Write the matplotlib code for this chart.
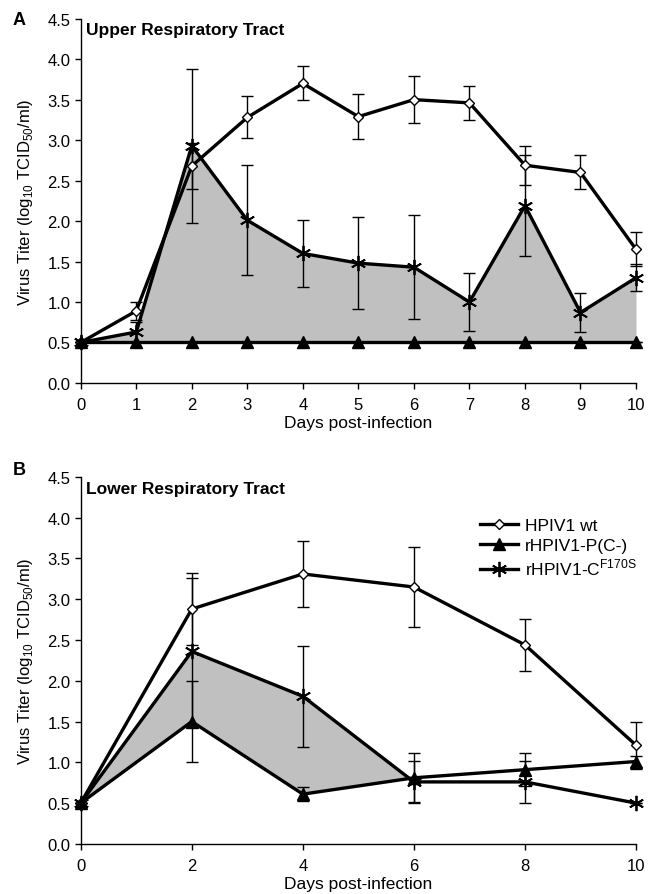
import numpy as np
import matplotlib
matplotlib.use("Agg")
import matplotlib.pyplot as plt

plt.rcParams['font.family'] = ['Liberation Sans', 'DejaVu Sans']

# Upper respiratory tract (days 0-10)
days_a = [0, 1, 2, 3, 4, 5, 6, 7, 8, 9, 10]
wt_a = [0.5, 0.89, 2.68, 3.28, 3.70, 3.29, 3.50, 3.46, 2.69, 2.60, 1.65]
wt_a_err = [0, 0.11, 0.29, 0.26, 0.21, 0.28, 0.29, 0.21, 0.24, 0.21, 0.21]
pc_a = [0.5, 0.5, 0.5, 0.5, 0.5, 0.5, 0.5, 0.5, 0.5, 0.5, 0.5]
pc_a_err = [0, 0, 0, 0, 0, 0, 0, 0, 0, 0, 0]
cf_a = [0.5, 0.63, 2.93, 2.01, 1.60, 1.48, 1.43, 1.00, 2.19, 0.87, 1.30]
cf_a_err = [0, 0.12, 0.95, 0.68, 0.41, 0.57, 0.64, 0.36, 0.62, 0.24, 0.17]

# Lower respiratory tract (every 2 days)
days_b = [0, 2, 4, 6, 8, 10]
wt_b = [0.5, 2.88, 3.31, 3.15, 2.44, 1.21]
wt_b_err = [0, 0.44, 0.41, 0.49, 0.32, 0.29]
pc_b = [0.5, 1.5, 0.61, 0.81, 0.91, 1.01]
pc_b_err = [0, 0.5, 0.09, 0.3, 0.2, 0.07]
cf_b = [0.5, 2.36, 1.81, 0.76, 0.76, 0.5]
cf_b_err = [0, 0.9, 0.62, 0.26, 0.26, 0]

labels = ['HPIV1 wt', 'rHPIV1-P(C-)', 'rHPIV1-C$^{\\mathregular{F170S}}$']
ylabel = 'Virus Titer (log$_{\\mathregular{10}}$ TCID$_{\\mathregular{50}}$/ml)'

fig = plt.figure(figsize=(6.51, 8.95), dpi=100)
ax_a = fig.add_axes([0.124, 0.571, 0.853, 0.407])
ax_b = fig.add_axes([0.124, 0.056, 0.853, 0.410])

styles = [dict(marker='D', markersize=5, markerfacecolor='white', markeredgewidth=1),
          dict(marker='^', markersize=8, markerfacecolor='black'),
          dict(marker=(6, 2, 0), markersize=11, markeredgewidth=1.3)]


def draw(ax, days, series, errs, fill_lo, fill_hi, title, xticks):
    days = np.array(days)
    lo = np.array(fill_lo)
    hi = np.array(fill_hi)
    ax.fill_between(days, lo, hi, where=hi >= lo, interpolate=True,
                    color='#c0c0c0', linewidth=0, zorder=1)
    handles = []
    for vals, err, st, lab in zip(series, errs, styles, labels):
        ax.errorbar(days, vals, yerr=err, fmt='none', ecolor='black',
                    elinewidth=1, capsize=4, capthick=1, zorder=2)
        h, = ax.plot(days, vals, color='black', lw=2.4, markeredgecolor='black',
                     label=lab, zorder=3, **st)
        handles.append(h)
    ax.set_xlim(0, 10)
    ax.set_ylim(0, 4.5)
    ax.set_xticks(xticks)
    ax.set_yticks(np.arange(0, 4.51, 0.5))
    ax.set_yticklabels(['%.1f' % v for v in np.arange(0, 4.51, 0.5)])
    for s in ['top', 'right']:
        ax.spines[s].set_visible(False)
    for s in ['left', 'bottom']:
        ax.spines[s].set_linewidth(1.0)
    ax.tick_params(direction='out', length=4, width=1, labelsize=12)
    ax.tick_params(axis='x', pad=6)
    ax.set_xlabel('Days post-infection', fontsize=12.5, labelpad=2)
    ax.set_ylabel(ylabel, fontsize=12, labelpad=9)
    ax.text(0.01, 0.99, title, transform=ax.transAxes, fontsize=12.5,
            fontweight='bold', va='top', ha='left')
    for art in ax.lines + ax.collections:
        art.set_clip_on(False)
    return handles


draw(ax_a, days_a, [wt_a, pc_a, cf_a], [wt_a_err, pc_a_err, cf_a_err],
     pc_a, cf_a, 'Upper Respiratory Tract', days_a)
hb = draw(ax_b, days_b, [wt_b, pc_b, cf_b], [wt_b_err, pc_b_err, cf_b_err],
          pc_b, cf_b, 'Lower Respiratory Tract', days_b)

ax_b.legend(handles=hb, loc='upper right', bbox_to_anchor=(1.03, 0.93),
            frameon=False, fontsize=12.5, handlelength=2.2, handletextpad=0.4,
            labelspacing=0.25)

fig.text(0.02, 0.977, 'A', fontsize=13, fontweight='bold', va='center')
fig.text(0.02, 0.474, 'B', fontsize=13, fontweight='bold', va='center')

fig.savefig('out.png', dpi=100)
